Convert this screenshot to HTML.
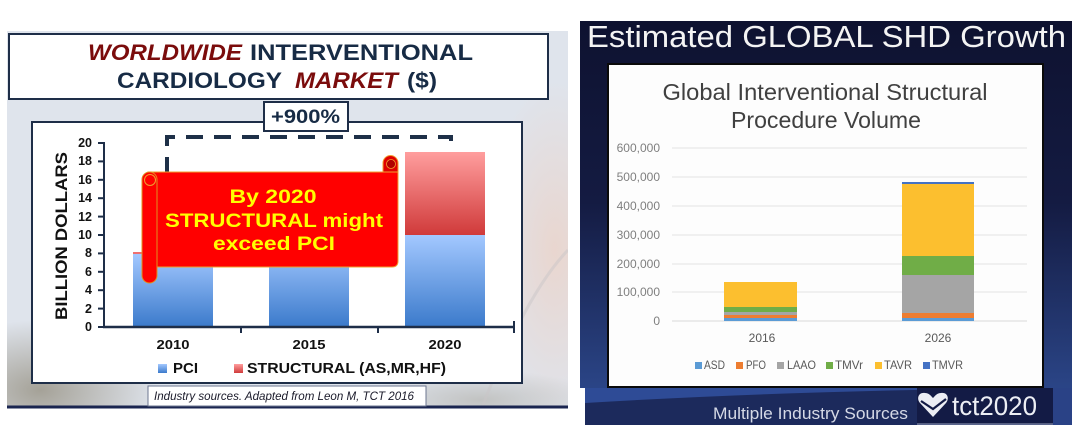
<!DOCTYPE html>
<html><head><meta charset="utf-8">
<style>html,body{margin:0;padding:0;background:#fff;}svg{display:block}</style></head>
<body>
<svg width="1080" height="446" viewBox="0 0 1080 446" xmlns="http://www.w3.org/2000/svg" font-family="'Liberation Sans', sans-serif">
<defs>
 <linearGradient id="pci" x1="0" y1="0" x2="0" y2="1"><stop offset="0" stop-color="#a3c8ff"/><stop offset="1" stop-color="#3b7acb"/></linearGradient>
 <linearGradient id="str" x1="0" y1="0" x2="0" y2="1"><stop offset="0" stop-color="#ff9e9e"/><stop offset="1" stop-color="#d03a3a"/></linearGradient>
 <linearGradient id="dark" x1="0" y1="0" x2="0" y2="1"><stop offset="0" stop-color="#0e1230"/><stop offset="0.45" stop-color="#141b42"/><stop offset="1" stop-color="#2f4d94"/></linearGradient>
 <radialGradient id="pink" cx="0.5" cy="0.5" r="0.5"><stop offset="0" stop-color="#e9d6cf" stop-opacity="1"/><stop offset="1" stop-color="#e9d6cf" stop-opacity="0"/></radialGradient>
 <radialGradient id="brown" cx="0.5" cy="0.5" r="0.5"><stop offset="0" stop-color="#9e9a8e" stop-opacity="0.9"/><stop offset="1" stop-color="#9e9a8e" stop-opacity="0"/></radialGradient>
 <clipPath id="lp"><rect x="7" y="31" width="561" height="376"/></clipPath>
</defs>

<!-- LEFT PANEL -->
<rect x="7" y="31" width="561" height="377" fill="#dfe4ec"/>
<g clip-path="url(#lp)">
 <ellipse cx="555" cy="250" rx="70" ry="170" fill="url(#pink)"/>
 <ellipse cx="40" cy="390" rx="120" ry="70" fill="url(#brown)"/>
 <ellipse cx="480" cy="400" rx="120" ry="30" fill="url(#brown)" opacity="0.5"/>
 <path d="M470,440 Q520,300 568,250" stroke="#c9c6c8" stroke-width="3" fill="none" opacity="0.5"/>
</g>
<line x1="7" y1="407" x2="568" y2="407" stroke="#1a2550" stroke-width="3"/>

<!-- title box -->
<rect x="9" y="34" width="539" height="65" fill="#fff" stroke="#1e2e48" stroke-width="2"/>
<g font-weight="bold" font-size="22">
 <text x="88" y="60" fill="#7b0c0c" font-style="italic" textLength="154" lengthAdjust="spacingAndGlyphs">WORLDWIDE</text>
 <text x="250" y="60" fill="#172b45" textLength="223" lengthAdjust="spacingAndGlyphs">INTERVENTIONAL</text>
 <text x="117" y="88" fill="#172b45" textLength="165" lengthAdjust="spacingAndGlyphs">CARDIOLOGY</text>
 <text x="295" y="88" fill="#7b0c0c" font-style="italic" textLength="103" lengthAdjust="spacingAndGlyphs">MARKET</text>
 <text x="407" y="88" fill="#172b45" textLength="30" lengthAdjust="spacingAndGlyphs">($)</text>
</g>

<!-- chart box -->
<rect x="32" y="122" width="490" height="261" fill="#fff" stroke="#1e2e48" stroke-width="2"/>

<!-- +900% box -->
<rect x="264" y="102" width="84" height="29" fill="#fff" stroke="#1e2e48" stroke-width="2"/>
<text x="271" y="123" font-weight="bold" font-size="19" fill="#172b45" textLength="69" lengthAdjust="spacingAndGlyphs">+900%</text>

<!-- y axis label -->
<text transform="translate(67,236) rotate(-90)" text-anchor="middle" font-weight="bold" font-size="17" fill="#111" textLength="168" lengthAdjust="spacingAndGlyphs">BILLION DOLLARS</text>

<!-- y ticks -->
<g font-weight="bold" font-size="12.5" fill="#111" text-anchor="end">
 <text x="92" y="331">0</text>
 <text x="92" y="313">2</text>
 <text x="92" y="294">4</text>
 <text x="92" y="276">6</text>
 <text x="92" y="257">8</text>
 <text x="92" y="239">10</text>
 <text x="92" y="221">12</text>
 <text x="92" y="202">14</text>
 <text x="92" y="184">16</text>
 <text x="92" y="165">18</text>
 <text x="92" y="147">20</text>
</g>
<g stroke="#1e2e48" stroke-width="2">
 <line x1="98" y1="327" x2="104" y2="327"/><line x1="98" y1="308.6" x2="104" y2="308.6"/>
 <line x1="98" y1="290.2" x2="104" y2="290.2"/><line x1="98" y1="271.8" x2="104" y2="271.8"/>
 <line x1="98" y1="253.4" x2="104" y2="253.4"/><line x1="98" y1="235" x2="104" y2="235"/>
 <line x1="98" y1="216.6" x2="104" y2="216.6"/><line x1="98" y1="198.2" x2="104" y2="198.2"/>
 <line x1="98" y1="179.8" x2="104" y2="179.8"/><line x1="98" y1="161.4" x2="104" y2="161.4"/>
 <line x1="98" y1="143" x2="104" y2="143"/>
</g>

<!-- bars -->
<rect x="133" y="254" width="80" height="73" fill="url(#pci)"/>
<rect x="133" y="252" width="80" height="2" fill="#f07070"/>
<rect x="269" y="245" width="80" height="82" fill="url(#pci)"/>
<rect x="405" y="235" width="80" height="92" fill="url(#pci)"/>
<rect x="405" y="152" width="80" height="83" fill="url(#str)"/>

<!-- axes -->
<line x1="104" y1="142" x2="104" y2="328" stroke="#1e2e48" stroke-width="2"/>
<line x1="103" y1="327" x2="515" y2="327" stroke="#1e2e48" stroke-width="2.5"/>
<g stroke="#1e2e48" stroke-width="2">
 <line x1="241" y1="327" x2="241" y2="333"/><line x1="378" y1="327" x2="378" y2="333"/><line x1="514" y1="321" x2="514" y2="333"/>
</g>

<!-- dashed bracket -->
<path d="M167,174 V137 H451 V151" fill="none" stroke="#1e3048" stroke-width="4" stroke-dasharray="17 11"/>

<!-- x labels -->
<g font-weight="bold" font-size="13" fill="#111" text-anchor="middle">
 <text x="173" y="349" textLength="33" lengthAdjust="spacingAndGlyphs">2010</text>
 <text x="309" y="349" textLength="33" lengthAdjust="spacingAndGlyphs">2015</text>
 <text x="445" y="349" textLength="33" lengthAdjust="spacingAndGlyphs">2020</text>
</g>

<!-- legend -->
<rect x="158" y="364" width="9" height="9" fill="url(#pci)"/>
<text x="173" y="373" font-weight="bold" font-size="15" fill="#111" textLength="25" lengthAdjust="spacingAndGlyphs">PCI</text>
<rect x="234" y="364" width="9" height="9" fill="url(#str)"/>
<text x="247" y="373" font-weight="bold" font-size="15" fill="#111" textLength="199" lengthAdjust="spacingAndGlyphs">STRUCTURAL (AS,MR,HF)</text>

<!-- footer -->
<rect x="148" y="386" width="278" height="20" fill="#fff" stroke="#6d7790" stroke-width="1"/>
<text x="154" y="400" font-style="italic" font-size="11.5" fill="#1a1a2a" textLength="260" lengthAdjust="spacingAndGlyphs">Industry sources. Adapted from Leon M, TCT 2016</text>

<!-- banner -->
<path d="M383,172 V163 A7.5,7.5 0 0 1 398,163 V172 Z" fill="#e00000" stroke="#f0a030" stroke-width="1"/>
<circle cx="391" cy="164" r="4.5" fill="#b00000" stroke="#f0a030" stroke-width="0.8"/>
<path d="M148,172 H398 V261 Q398,267 392,267 H148 Z" fill="#ff0000" stroke="#f0a030" stroke-width="1"/>
<rect x="142" y="172" width="15" height="111" rx="7.5" fill="#ff0000" stroke="#e09020" stroke-width="1"/>
<circle cx="150" cy="180" r="5.5" fill="#ff0000" stroke="#f0a030" stroke-width="1"/>
<g font-weight="bold" font-size="19" fill="#ffff00" text-anchor="middle">
 <text x="273" y="203" textLength="87" lengthAdjust="spacingAndGlyphs">By 2020</text>
 <text x="274" y="227" textLength="218" lengthAdjust="spacingAndGlyphs">STRUCTURAL might</text>
 <text x="274" y="250" textLength="122" lengthAdjust="spacingAndGlyphs">exceed PCI</text>
</g>

<!-- RIGHT PANEL -->
<path d="M580,21 H1072 V425 H585 V388 H580 Z" fill="url(#dark)"/>
<rect x="585" y="388" width="487" height="37" fill="#1c2a5c"/>
<path d="M585,388 H1050 Q800,390 585,403 Z" fill="#2e4b96"/>
<rect x="1053" y="388" width="19" height="37" fill="#2a4286"/>
<text x="587" y="47" font-size="31" fill="#f4f4f4" textLength="479" lengthAdjust="spacingAndGlyphs">Estimated GLOBAL SHD Growth</text>

<rect x="608" y="64" width="435" height="323" fill="#fdfdfd" stroke="#0a0a0a" stroke-width="2"/>
<g font-size="23" fill="#404040" text-anchor="middle">
 <text x="825" y="100" textLength="325" lengthAdjust="spacingAndGlyphs">Global Interventional Structural</text>
 <text x="826" y="128" textLength="190" lengthAdjust="spacingAndGlyphs">Procedure Volume</text>
</g>

<g stroke="#e3e3e3" stroke-width="1">
 <line x1="672" y1="148" x2="1027" y2="148"/><line x1="672" y1="177" x2="1027" y2="177"/>
 <line x1="672" y1="206" x2="1027" y2="206"/><line x1="672" y1="235" x2="1027" y2="235"/>
 <line x1="672" y1="264" x2="1027" y2="264"/><line x1="672" y1="292" x2="1027" y2="292"/>
 <line x1="672" y1="321" x2="1027" y2="321" stroke="#d9d9d9"/>
</g>
<g font-size="12" fill="#7f7f7f" text-anchor="end">
 <text x="660" y="152">600,000</text>
 <text x="660" y="181">500,000</text>
 <text x="660" y="210">400,000</text>
 <text x="660" y="239">300,000</text>
 <text x="660" y="268">200,000</text>
 <text x="660" y="296">100,000</text>
 <text x="660" y="325">0</text>
</g>

<!-- 2016 stack -->
<rect x="724" y="318" width="73" height="3" fill="#5b9bd5"/>
<rect x="724" y="315" width="73" height="3" fill="#ed7d31"/>
<rect x="724" y="312" width="73" height="3" fill="#a5a5a5"/>
<rect x="724" y="307" width="73" height="5" fill="#70ad47"/>
<rect x="724" y="282" width="73" height="25" fill="#fcbf2f"/>
<!-- 2026 stack -->
<rect x="902" y="318" width="72" height="3" fill="#5b9bd5"/>
<rect x="902" y="313" width="72" height="5" fill="#ed7d31"/>
<rect x="902" y="275" width="72" height="38" fill="#a5a5a5"/>
<rect x="902" y="256" width="72" height="19" fill="#70ad47"/>
<rect x="902" y="184" width="72" height="72" fill="#fcbf2f"/>
<rect x="902" y="182" width="72" height="2" fill="#4472c4"/>

<g font-size="12" fill="#595959" text-anchor="middle">
 <text x="762" y="342">2016</text>
 <text x="938" y="342">2026</text>
</g>
<g font-size="12" fill="#595959">
 <rect x="695" y="362" width="7" height="7" fill="#5b9bd5"/><text x="704" y="369" textLength="21" lengthAdjust="spacingAndGlyphs">ASD</text>
 <rect x="736" y="362" width="7" height="7" fill="#ed7d31"/><text x="746" y="369" textLength="20" lengthAdjust="spacingAndGlyphs">PFO</text>
 <rect x="777" y="362" width="7" height="7" fill="#a5a5a5"/><text x="787" y="369" textLength="29" lengthAdjust="spacingAndGlyphs">LAAO</text>
 <rect x="826" y="362" width="7" height="7" fill="#70ad47"/><text x="835" y="369" textLength="28" lengthAdjust="spacingAndGlyphs">TMVr</text>
 <rect x="875" y="362" width="7" height="7" fill="#fcbf2f"/><text x="884" y="369" textLength="28" lengthAdjust="spacingAndGlyphs">TAVR</text>
 <rect x="923" y="362" width="7" height="7" fill="#4472c4"/><text x="932" y="369" textLength="31" lengthAdjust="spacingAndGlyphs">TMVR</text>
</g>

<!-- bottom band -->
<text x="713" y="419" font-size="17" fill="#d5d9e6" textLength="195" lengthAdjust="spacingAndGlyphs">Multiple Industry Sources</text>
<rect x="917" y="388" width="136" height="36" fill="#131b45"/>
<line x1="917" y1="424" x2="1053" y2="424" stroke="#9aa3c0" stroke-width="1"/>
<path d="M933,417 L920,403 C916,398 919,392 925,393 C929,393 931,396 933,398 C935,396 937,393 941,393 C947,392 950,398 946,403 Z" fill="#eceef4"/>
<path d="M921,401 L933,409 L946,399" fill="none" stroke="#131b45" stroke-width="2.2"/>
<text x="952" y="415" font-size="27" fill="#eceef4" textLength="85" lengthAdjust="spacingAndGlyphs">tct2020</text>
</svg>
</body></html>
